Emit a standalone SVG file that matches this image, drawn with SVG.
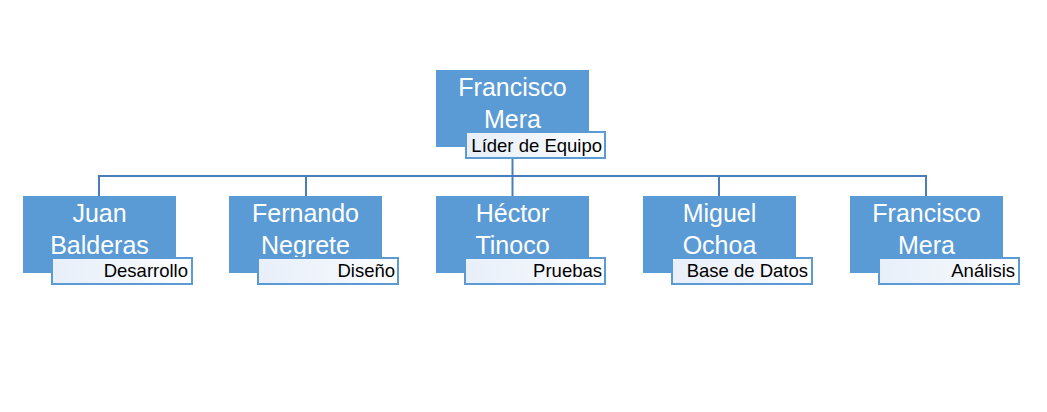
<svg xmlns="http://www.w3.org/2000/svg" width="1047" height="412" viewBox="0 0 1047 412">
<defs>
<linearGradient id="lg" x1="0" y1="0" x2="1" y2="0">
<stop offset="0" stop-color="#E8EFF9"/>
<stop offset="0.6" stop-color="#F2F6FC"/>
<stop offset="1" stop-color="#FFFFFF"/>
</linearGradient>
</defs>
<style>
.box{fill:#5B9BD5;}
.lbl{fill:url(#lg);stroke:#5B9BD5;stroke-width:2;}
.name{font-family:"Liberation Sans",Arial,sans-serif;font-size:25px;fill:#FFFFFF;text-anchor:middle;}
.role{font-family:"Liberation Sans",Arial,sans-serif;font-size:18.5px;fill:#000000;text-anchor:end;}
.conn{fill:none;stroke:#4A7EBB;stroke-width:2;}
</style>
<rect width="1047" height="412" fill="#FFFFFF"/>
<g id="connectors">
<path class="conn" d="M512.5,158 V176 M99,176 H926 M99,175 V196 M306,175 V196 M512.5,175 V196 M719,175 V196 M926,175 V196"/>
</g>
<g id="n0">
<rect class="box" x="436" y="70" width="153" height="77"/>
<text class="name" x="512.5" y="96">Francisco</text>
<text class="name" x="512.5" y="128">Mera</text>
<rect class="lbl" x="466" y="132" width="139" height="26"/>
<text class="role" x="602" y="152">Líder de Equipo</text>
</g>
<g id="n1">
<rect class="box" x="23" y="196" width="153" height="77"/>
<text class="name" x="99.5" y="222">Juan</text>
<text class="name" x="99.5" y="254">Balderas</text>
<rect class="lbl" x="52" y="258" width="140" height="26"/>
<text class="role" x="188" y="277">Desarrollo</text>
</g>
<g id="n2">
<rect class="box" x="229" y="196" width="153" height="77"/>
<text class="name" x="305.5" y="222">Fernando</text>
<text class="name" x="305.5" y="254">Negrete</text>
<rect class="lbl" x="258" y="258" width="140" height="26"/>
<text class="role" x="395" y="277">Diseño</text>
</g>
<g id="n3">
<rect class="box" x="436" y="196" width="153" height="77"/>
<text class="name" x="512.5" y="222">Héctor</text>
<text class="name" x="512.5" y="254">Tinoco</text>
<rect class="lbl" x="465" y="258" width="140" height="26"/>
<text class="role" x="602" y="277">Pruebas</text>
</g>
<g id="n4">
<rect class="box" x="643" y="196" width="153" height="77"/>
<text class="name" x="719.5" y="222">Miguel</text>
<text class="name" x="719.5" y="254">Ochoa</text>
<rect class="lbl" x="672" y="258" width="140" height="26"/>
<text class="role" x="808" y="277">Base de Datos</text>
</g>
<g id="n5">
<rect class="box" x="850" y="196" width="153" height="77"/>
<text class="name" x="926.5" y="222">Francisco</text>
<text class="name" x="926.5" y="254">Mera</text>
<rect class="lbl" x="879" y="258" width="140" height="26"/>
<text class="role" x="1015" y="277">Análisis</text>
</g>
</svg>
